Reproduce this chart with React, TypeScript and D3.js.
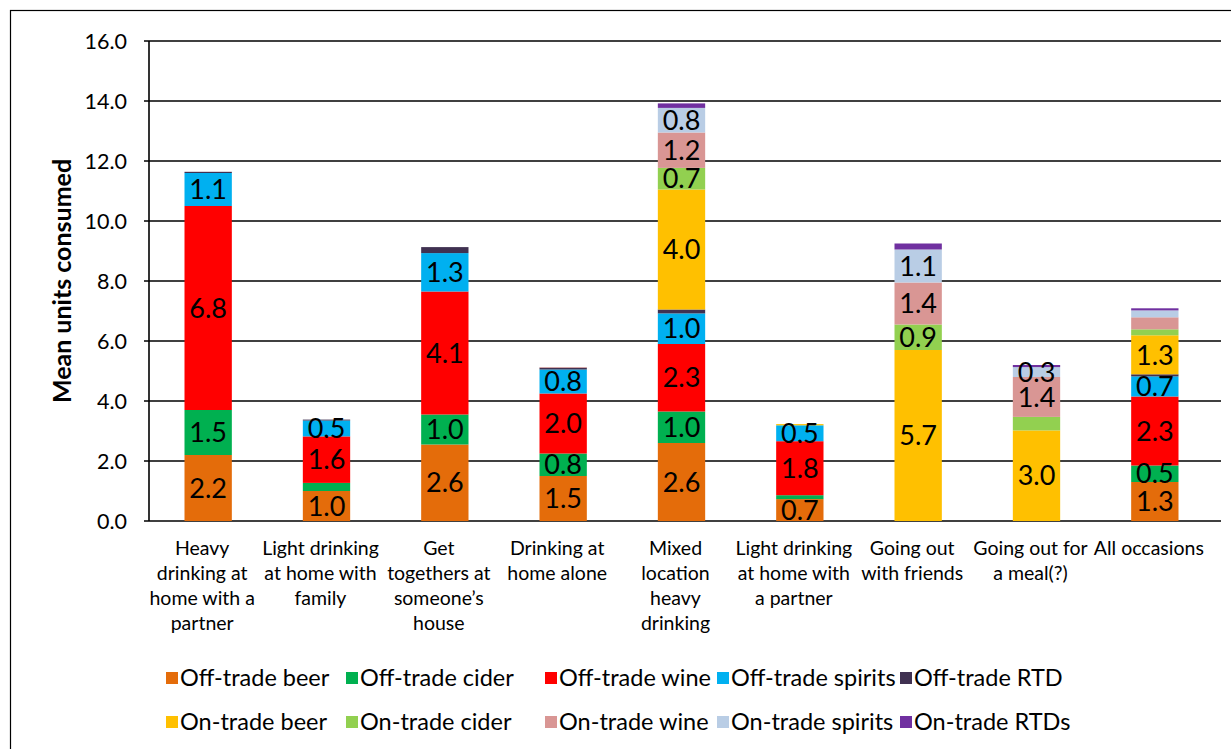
import React from "react";
import * as d3 from "d3";

const categories: string[][] = [
  ["Heavy", "drinking at", "home with a", "partner"],
  ["Light drinking", "at home with", "family"],
  ["Get", "togethers at", "someone\u2019s", "house"],
  ["Drinking at", "home alone"],
  ["Mixed", "location", "heavy", "drinking"],
  ["Light drinking", "at home with", "a partner"],
  ["Going out", "with friends"],
  ["Going out for", "a meal(?)"],
  ["All occasions"],
];

const seriesNames = [
  "Off-trade beer",
  "Off-trade cider",
  "Off-trade wine",
  "Off-trade spirits",
  "Off-trade RTD",
  "On-trade beer",
  "On-trade cider",
  "On-trade wine",
  "On-trade spirits",
  "On-trade RTDs",
];
const seriesColors = [
  "#E46C0A",
  "#00B050",
  "#FF0000",
  "#00B0F0",
  "#403151",
  "#FFC000",
  "#92D050",
  "#D99694",
  "#B9CDE5",
  "#7030A0",
];

// values per series, one entry per category
const offBeer = [2.2, 1.0, 2.55, 1.5, 2.6, 0.73, 0, 0, 1.3];
const offCider = [1.5, 0.27, 1.0, 0.75, 1.05, 0.13, 0, 0, 0.55];
const offWine = [6.8, 1.55, 4.1, 2.0, 2.25, 1.8, 0, 0, 2.3];
const offSpirits = [1.1, 0.53, 1.28, 0.8, 1.02, 0.53, 0, 0, 0.67];
const offRTD = [0.04, 0.03, 0.2, 0.06, 0.13, 0, 0, 0, 0.07];
const onBeer = [0, 0, 0, 0, 4.0, 0.04, 5.7, 3.02, 1.3];
const onCider = [0, 0, 0, 0, 0.72, 0, 0.85, 0.45, 0.2];
const onWine = [0, 0, 0, 0.02, 1.18, 0, 1.4, 1.33, 0.4];
const onSpirits = [0, 0, 0, 0, 0.82, 0, 1.1, 0.33, 0.23];
const onRTDs = [0, 0, 0, 0, 0.15, 0, 0.2, 0.07, 0.07];

// printed labels per series (null = no label)
const offBeerLbl = ["2.2", "1.0", "2.6", "1.5", "2.6", "0.7", null, null, "1.3"];
const offCiderLbl = ["1.5", null, "1.0", "0.8", "1.0", null, null, null, "0.5"];
const offWineLbl = ["6.8", "1.6", "4.1", "2.0", "2.3", "1.8", null, null, "2.3"];
const offSpiritsLbl = ["1.1", "0.5", "1.3", "0.8", "1.0", "0.5", null, null, "0.7"];
const offRTDLbl = [null, null, null, null, null, null, null, null, null];
const onBeerLbl = [null, null, null, null, "4.0", null, "5.7", "3.0", "1.3"];
const onCiderLbl = [null, null, null, null, "0.7", null, "0.9", null, null];
const onWineLbl = [null, null, null, null, "1.2", null, "1.4", "1.4", null];
const onSpiritsLbl = [null, null, null, null, "0.8", null, "1.1", "0.3", null];
const onRTDsLbl = [null, null, null, null, null, null, null, null, null];

const yTicks = [0, 2, 4, 6, 8, 10, 12, 14, 16];

const allSeries = [offBeer, offCider, offWine, offSpirits, offRTD, onBeer, onCider, onWine, onSpirits, onRTDs];
const allLabels = [offBeerLbl, offCiderLbl, offWineLbl, offSpiritsLbl, offRTDLbl, onBeerLbl, onCiderLbl, onWineLbl, onSpiritsLbl, onRTDsLbl];

const FONT = "Lato, Carlito, Calibri, 'Open Sans', sans-serif";

export default function App() {
  const W = 1231;
  const H = 749;
  const plotLeft = 149;
  const plotRight = 1214;
  const gridRight = 1221;
  const y = d3.scaleLinear().domain([0, 16]).range([521, 41]);
  const x = d3
    .scaleBand<number>()
    .domain(categories.map((_, i) => i))
    .range([plotLeft, plotRight])
    .paddingInner(0.6)
    .paddingOuter(0.3);

  const rows = categories.map((_, i) => {
    const r: any = { i };
    seriesNames.forEach((s, k) => (r[s] = allSeries[k][i]));
    return r;
  });
  const stacked = d3.stack<any>().keys(seriesNames)(rows);

  const legendCols = [172, 352, 551, 723, 906];
  const legendRows = [678, 722];

  return (
    <svg
      width={W}
      height={H}
      style={{ position: "absolute", left: 0, top: 0, display: "block", background: "#fff" }}
      fontFamily={FONT}
    >
      <rect x={10.5} y={10.5} width={1230} height={760} fill="#fff" stroke="#000" strokeWidth={1.2} />
      {yTicks.map((t) => (
        <g key={t}>
          <line x1={plotLeft - 5} x2={gridRight} y1={y(t)} y2={y(t)} stroke="#000" strokeWidth={1.6} />
          <text x={127} y={y(t)} dy="0.35em" textAnchor="end" fontSize={21.5} fill="#000">
            {t.toFixed(1)}
          </text>
        </g>
      ))}
      <line x1={plotLeft} x2={plotLeft} y1={y(16)} y2={y(0)} stroke="#000" strokeWidth={1.6} />
      <text
        transform={`translate(62,${(y(0) + y(16)) / 2}) rotate(-90)`}
        textAnchor="middle"
        dy="0.35em"
        fontSize={25}
        fontWeight="bold"
        fill="#000"
      >
        Mean units consumed
      </text>
      {stacked.map((layer, k) => (
        <g key={k}>
          {layer.map((d, i) => {
            const h = y(d[0]) - y(d[1]);
            if (h <= 0) return null;
            return (
              <rect
                key={i}
                x={x(i)!}
                width={x.bandwidth()}
                y={y(d[1])}
                height={h}
                fill={seriesColors[k]}
              />
            );
          })}
        </g>
      ))}
      {stacked.map((layer, k) => (
        <g key={"l" + k}>
          {layer.map((d, i) => {
            const lbl = allLabels[k][i];
            if (!lbl) return null;
            return (
              <text
                key={i}
                x={x(i)! + x.bandwidth() / 2}
                y={(y(d[0]) + y(d[1])) / 2}
                dy="0.36em"
                textAnchor="middle"
                fontSize={27}
                fill="#000"
              >
                {lbl}
              </text>
            );
          })}
        </g>
      ))}
      {categories.map((lines, i) => (
        <text key={i} textAnchor="middle" fontSize={19.5} fill="#000">
          {lines.map((ln, j) => (
            <tspan key={j} x={x(i)! + x.bandwidth() / 2 - 6} y={555 + j * 25}>
              {ln}
            </tspan>
          ))}
        </text>
      ))}
      {seriesNames.map((s, k) => {
        const cx = legendCols[k % 5];
        const cy = legendRows[Math.floor(k / 5)];
        return (
          <g key={s}>
            <rect x={cx - 6} y={cy - 6} width={12} height={12} fill={seriesColors[k]} />
            <text x={cx + 8} y={cy} dy="0.35em" fontSize={23.5} fill="#000">
              {s}
            </text>
          </g>
        );
      })}
    </svg>
  );
}
